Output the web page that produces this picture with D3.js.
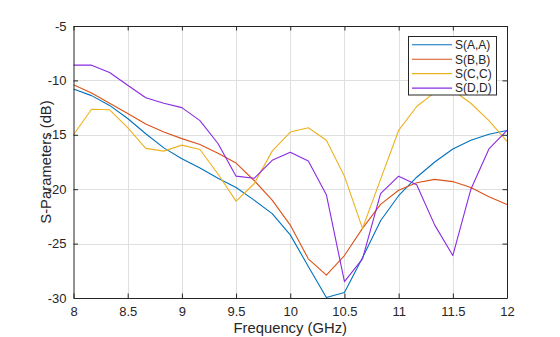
<!DOCTYPE html>
<html>
<head>
<meta charset="utf-8">
<script src="https://cdn.jsdelivr.net/npm/d3@7"></script>
<style>
  html, body { margin: 0; padding: 0; background: #fff; }
  svg { display: block; font-family: "Liberation Sans", Arial, sans-serif; }
</style>
</head>
<body>
<svg id="chart" width="560" height="337"></svg>
<script>
// ---- data ----
const freq = [8.0, 8.1667, 8.3333, 8.5, 8.6667, 8.8333, 9.0, 9.1667, 9.3333, 9.5, 9.6667, 9.8333,
              10.0, 10.1667, 10.3333, 10.5, 10.6667, 10.8333, 11.0, 11.1667, 11.3333, 11.5, 11.6667, 11.8333, 12.0];
const sAA = [-10.8, -11.4, -12.3, -13.5, -14.9, -16.2, -17.2, -18.05, -19.0, -19.85, -21.0, -22.25,
             -24.2, -27.1, -29.95, -29.5, -26.3, -22.9, -20.6, -18.9, -17.5, -16.3, -15.5, -14.95, -14.6];
const sBB = [-10.4, -11.15, -12.1, -13.05, -14.0, -14.75, -15.35, -15.9, -16.7, -17.6, -19.2, -21.0,
             -23.3, -26.4, -27.9, -26.1, -23.6, -21.4, -20.1, -19.4, -19.1, -19.3, -19.85, -20.7, -21.4];
const sCC = [-15.0, -12.65, -12.7, -14.35, -16.25, -16.5, -15.95, -16.35, -18.6, -21.1, -19.5, -16.5,
             -14.75, -14.35, -15.5, -18.8, -23.6, -19.1, -14.6, -12.4, -11.1, -10.9, -12.1, -13.7, -15.6];
const sDD = [-8.6, -8.6, -9.28, -10.45, -11.6, -12.1, -12.5, -13.7, -15.8, -18.8, -19.0, -17.35,
             -16.6, -17.4, -20.5, -28.5, -26.4, -20.4, -18.8, -19.6, -23.3, -26.1, -20.0, -16.3, -14.6];
const seriesNames = ["S(A,A)", "S(B,B)", "S(C,C)", "S(D,D)"];
const seriesColors = ["#0072BD", "#D95319", "#EDB120", "#8A2BE2"];
const xTicks = [8, 8.5, 9, 9.5, 10, 10.5, 11, 11.5, 12];
const yTicks = [-30, -25, -20, -15, -10, -5];
const xLabel = "Frequency (GHz)";
const yLabel = "S-Parameters (dB)";

// ---- layout ----
const L = 73.5, R = 507, T = 26, B = 298;
const svg = d3.select("#chart");
const x = d3.scaleLinear().domain([8, 12]).range([L, R]);
const y = d3.scaleLinear().domain([-30, -5]).range([B, T]);
const axisColor = "#262626";

// grid
const grid = svg.append("g");
grid.selectAll(".gx").data(xTicks.slice(1, -1)).join("line")
  .attr("x1", d => Math.round(x(d)) + 0.5).attr("x2", d => Math.round(x(d)) + 0.5)
  .attr("y1", T).attr("y2", B).attr("stroke", "#dfdfdf").attr("stroke-width", 1);
grid.selectAll(".gy").data(yTicks.slice(1, -1)).join("line")
  .attr("y1", d => Math.round(y(d)) + 0.5).attr("y2", d => Math.round(y(d)) + 0.5)
  .attr("x1", L).attr("x2", R).attr("stroke", "#dfdfdf").attr("stroke-width", 1);

// series
const all = [sAA, sBB, sCC, sDD];
const line = d3.line().x((d, i) => x(freq[i])).y(d => y(d));
const plot = svg.append("g");
all.forEach((s, k) => {
  plot.append("path").datum(s).attr("d", line)
    .attr("fill", "none").attr("stroke", seriesColors[k]).attr("stroke-width", 1.1)
    .attr("stroke-linejoin", "round");
});

// axes (box with inward ticks)
const tickLen = 4.5;
const axB = svg.append("g").attr("transform", `translate(0,${B})`)
  .call(d3.axisBottom(x).tickValues(xTicks).tickSizeInner(-tickLen).tickSizeOuter(0).tickPadding(9)
        .tickFormat(d3.format("")));
const axT = svg.append("g").attr("transform", `translate(0,${T})`)
  .call(d3.axisTop(x).tickValues(xTicks).tickSizeInner(-tickLen).tickSizeOuter(0).tickFormat(""));
const axL = svg.append("g").attr("transform", `translate(${L},0)`)
  .call(d3.axisLeft(y).tickValues(yTicks).tickSizeInner(-tickLen).tickSizeOuter(0).tickPadding(7)
        .tickFormat(d => d3.format("")(d).replace("−", "-")));
const axR = svg.append("g").attr("transform", `translate(${R},0)`)
  .call(d3.axisRight(y).tickValues(yTicks).tickSizeInner(-tickLen).tickSizeOuter(0).tickFormat(""));
[axB, axT, axL, axR].forEach(a => {
  a.select(".domain").attr("stroke", axisColor);
  a.selectAll(".tick line").attr("stroke", axisColor);
  a.selectAll("text").attr("fill", axisColor).attr("font-size", 13)
    .attr("font-family", "'Liberation Sans', Arial, sans-serif");
});
axB.selectAll(".tick text").attr("dy", "0.71em");

// axis labels
svg.append("text").attr("x", (L + R) / 2).attr("y", 332.5).attr("text-anchor", "middle")
  .attr("font-size", 14.8).attr("fill", axisColor).text(xLabel);
svg.append("text").attr("transform", `translate(51,${(T + B) / 2}) rotate(-90)`)
  .attr("text-anchor", "middle").attr("font-size", 14.8).attr("fill", axisColor).text(yLabel);

// legend
const lg = svg.append("g");
lg.append("rect").attr("x", 408.5).attr("y", 36.5).attr("width", 88).attr("height", 58.5)
  .attr("fill", "#fff").attr("stroke", axisColor).attr("stroke-width", 1);
const rowY = [44.7, 59.2, 73.6, 88.1];
seriesNames.forEach((n, k) => {
  lg.append("line").attr("x1", 412).attr("x2", 452).attr("y1", rowY[k]).attr("y2", rowY[k])
    .attr("stroke", seriesColors[k]).attr("stroke-width", 1.1);
  lg.append("text").attr("x", 455).attr("y", rowY[k]).attr("dy", "0.36em")
    .attr("font-size", 12).attr("fill", axisColor).text(n);
});
</script>
</body>
</html>
